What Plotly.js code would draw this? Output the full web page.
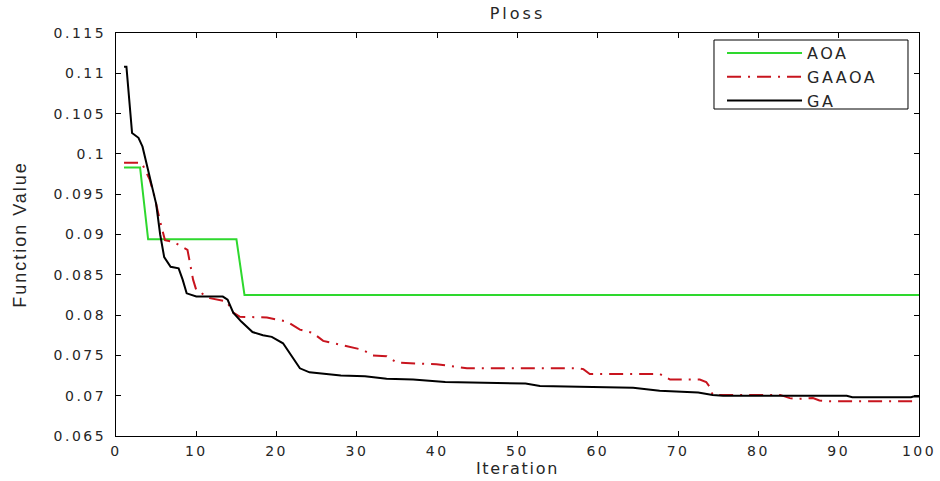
<!DOCTYPE html>
<html>
<head>
<meta charset="utf-8">
<script src="https://cdn.plot.ly/plotly-3.0.1.min.js"></script>
<style>
html,body{margin:0;padding:0;background:#fff;}
#chart{width:940px;height:481px;}
.xtick text, .ytick text{letter-spacing:2.5px;}
text.xtitle{letter-spacing:1.7px;}
text.ytitle{letter-spacing:2px;}
text.gtitle{letter-spacing:3px;}
text.legendtext{letter-spacing:2.5px;}
</style>
</head>
<body>
<div id="chart"></div>
<script>
// AOA (green, solid)
const aoaX = [1, 3, 4, 15, 16, 100];
const aoaY = [0.0983, 0.0983, 0.0894, 0.0894, 0.0825, 0.0825];

// GAAOA (red, dash-dot)
const gaaoaX = [1, 3.2, 4.2, 4.8, 5.45, 6.1, 7.1, 8.9, 9.6, 10, 11.7, 13.8, 14.6, 15.4, 18.8, 21.3, 22.9, 24.5, 25.8, 28, 29.3, 30.7, 32, 33.7, 35, 39.9, 41.6, 43.7, 57.4, 58.2, 59, 67.7, 69, 72.7, 73.5, 74, 74.3, 82.7, 83.9, 84.7, 86.8, 87.6, 88.9, 100];
const gaaoaY = [0.0989, 0.0989, 0.0968, 0.0947, 0.0918, 0.0893, 0.0891, 0.0881, 0.0844, 0.0831, 0.0821, 0.0817, 0.0803, 0.0798, 0.0797, 0.0792, 0.0782, 0.0778, 0.0768, 0.0763, 0.0760, 0.0757, 0.0750, 0.0749, 0.0741, 0.0739, 0.0737, 0.0734, 0.0734, 0.0733, 0.0727, 0.0727, 0.0720, 0.0720, 0.0717, 0.0710, 0.0701, 0.0701, 0.0697, 0.0696, 0.0697, 0.0694, 0.0693, 0.0693];

// GA (black, solid)
const gaX = [1, 1.3, 2, 2.8, 3.3, 4.2, 5.0, 5.5, 6.0, 6.8, 7.8, 8.3, 8.8, 10, 13.3, 13.9, 14.6, 15.6, 17, 18.3, 19.4, 20.8, 22, 22.9, 24.1, 25, 28, 31, 33.7, 37, 41, 51, 52.8, 57.7, 64.4, 67.7, 72.5, 74.3, 75.6, 91, 91.7, 99, 99.3, 100];
const gaY = [0.1108, 0.1108, 0.1026, 0.1020, 0.1009, 0.0970, 0.0938, 0.0900, 0.0872, 0.0860, 0.0858, 0.0844, 0.0827, 0.0823, 0.0823, 0.0819, 0.0803, 0.0792, 0.0779, 0.0775, 0.0773, 0.0765, 0.0747, 0.0734, 0.0729, 0.0728, 0.0725, 0.0724, 0.0721, 0.0720, 0.0717, 0.0715, 0.0712, 0.0711, 0.0710, 0.0706, 0.0704, 0.0701, 0.0700, 0.0700, 0.0698, 0.0698, 0.0699, 0.0699];

const xTickVals = [0, 10, 20, 30, 40, 50, 60, 70, 80, 90, 100];
const xTickText = ["0", "10", "20", "30", "40", "50", "60", "70", "80", "90", "100"];
const yTickVals = [0.065, 0.07, 0.075, 0.08, 0.085, 0.09, 0.095, 0.1, 0.105, 0.11, 0.115];
const yTickText = ["0.065", "0.07", "0.075", "0.08", "0.085", "0.09", "0.095", "0.1", "0.105", "0.11", "0.115"];

const FONT = "DejaVu Sans, Verdana, sans-serif";
const TXT = "#262626";

const traces = [
  {x: aoaX, y: aoaY, name: "AOA", type: "scatter", mode: "lines",
   line: {color: "#2ed82e", width: 2}},
  {x: gaaoaX, y: gaaoaY, name: "GAAOA", type: "scatter", mode: "lines",
   line: {color: "#c8141e", width: 2, dash: "14px,7px,2px,7px"}},
  {x: gaX, y: gaY, name: "GA", type: "scatter", mode: "lines",
   line: {color: "#000000", width: 2}}
];

const axisCommon = {
  showline: true, linecolor: "#000", linewidth: 1, mirror: "ticks",
  ticks: "inside", ticklen: 5, tickcolor: "#000", showgrid: false, zeroline: false,
  tickfont: {family: FONT, size: 14, color: TXT}
};

const layout = {
  width: 940, height: 481,
  margin: {l: 116, r: 21, t: 33, b: 45},
  paper_bgcolor: "#fff", plot_bgcolor: "#fff",
  showlegend: true,
  title: {text: "Ploss", font: {family: FONT, size: 16, color: TXT}, x: 0.5, xref: "paper", xanchor: "center", y: 0.972, yanchor: "middle"},
  xaxis: Object.assign({}, axisCommon, {
    range: [0, 100], tickvals: xTickVals, ticktext: xTickText, ticklabelstandoff: 2,
    title: {text: "Iteration", font: {family: FONT, size: 16, color: TXT}, standoff: 4}
  }),
  yaxis: Object.assign({}, axisCommon, {
    range: [0.065, 0.115], tickvals: yTickVals, ticktext: yTickText, ticklabelstandoff: 6,
    title: {text: "Function Value", font: {family: "Liberation Sans, Arial, sans-serif", size: 18, color: TXT}, standoff: 22}
  }),
  legend: {
    x: 0.7547, xanchor: "left", y: 0.9926, yanchor: "top",
    bgcolor: "rgba(0,0,0,0)", borderwidth: 0,
    font: {family: FONT, size: 16, color: TXT},
    itemwidth: 75, tracegroupgap: 0
  },
  shapes: [
    // legend frame
    {type: "rect", xref: "paper", yref: "paper", x0: 0.7447, x1: 0.9863, y0: 0.8114, y1: 0.9826,
     line: {color: "#000", width: 1}, fillcolor: "#fff", layer: "above"}
  ]
};

Plotly.newPlot("chart", traces, layout, {displayModeBar: false, staticPlot: true});
</script>
</body>
</html>
